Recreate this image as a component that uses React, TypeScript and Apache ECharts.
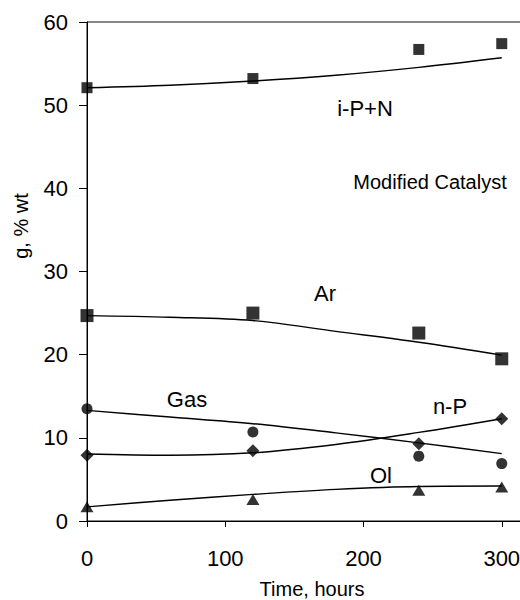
import React, { useEffect, useRef } from "react";
import * as echarts from "echarts";

const times = [0, 120, 240, 300];
const ipnData = [52.1, 53.2, 56.7, 57.4];
const arData = [24.7, 25.0, 22.6, 19.5];
const gasData = [13.5, 10.7, 7.8, 6.9];
const npData = [7.9, 8.45, 9.3, 12.3];
const olData = [1.7, 2.6, 3.7, 4.1];

const fitTimes = [0, 60, 120, 180, 240, 300];
const ipnFit = [52.1, 52.4, 52.9, 53.6, 54.55, 55.7];
const arFit = [24.7, 24.5, 24.1, 22.8, 21.5, 19.95];
const gasFit = [13.3, 12.5, 11.7, 10.6, 9.4, 8.1];
const npFit = [8.05, 7.9, 8.2, 9.2, 10.65, 12.3];
const olFit = [1.7, 2.5, 3.2, 3.8, 4.15, 4.2];

const xTicks = [0, 100, 200, 300, 400];
const yTicks = [0, 10, 20, 30, 40, 50, 60];

const FONT = "'Liberation Sans', Arial, Helvetica, sans-serif";

const pair = (xs: number[], ys: number[]) => xs.map((x, i) => [x, ys[i]]);

export default function App() {
  const ref = useRef<HTMLDivElement>(null);
  useEffect(() => {
    if (!ref.current) return;
    const chart = echarts.init(ref.current, undefined, { renderer: "svg" });
    const scatter = (name: string, data: number[], symbol: string, size: any) => ({
      type: "scatter",
      name,
      data: pair(times, data),
      symbol,
      symbolSize: size,
      itemStyle: { color: "#000" },
      z: 5,
    });
    const fit = (name: string, data: number[]) => ({
      type: "line",
      name: name + " fit",
      data: pair(fitTimes, data),
      smooth: 0.35,
      symbol: "none",
      lineStyle: { color: "#000", width: 1.4 },
      z: 3,
    });
    const txt = (x: number, y: number, text: string, size = 22, rotation = 0) => ({
      type: "text",
      x,
      y,
      rotation,
      style: {
        text,
        fill: "#000",
        font: `${size}px ${FONT}`,
        textAlign: "center",
        textVerticalAlign: "middle",
      },
      z: 10,
    });
    chart.setOption({
      animation: false,
      backgroundColor: "#fff",
      grid: {
        left: 87,
        top: 22,
        width: 553,
        height: 499,
        show: true,
        borderColor: "#111",
        borderWidth: 1,
        containLabel: false,
        outerBoundsMode: "none",
      },
      xAxis: {
        type: "value",
        min: xTicks[0],
        max: xTicks[xTicks.length - 1],
        interval: 100,
        axisLine: { show: true, lineStyle: { color: "#000", width: 1 } },
        axisTick: { show: true, length: 6, lineStyle: { color: "#000" } },
        axisLabel: { color: "#000", fontSize: 22, fontFamily: FONT, margin: 26 },
        splitLine: { show: false },
      },
      yAxis: {
        type: "value",
        min: yTicks[0],
        max: yTicks[yTicks.length - 1],
        interval: 10,
        axisLine: { show: true, lineStyle: { color: "#000", width: 1 } },
        axisTick: { show: true, length: 8, lineStyle: { color: "#000" } },
        axisLabel: { color: "#000", fontSize: 22, fontFamily: FONT, margin: 19 },
        splitLine: { show: false },
      },
      graphic: [
        txt(365, 108, "i-P+N"),
        txt(430, 182, "Modified Catalyst", 20),
        txt(325, 293, "Ar"),
        txt(187, 399, "Gas"),
        txt(450, 406, "n-P"),
        txt(381, 475, "Ol"),
        txt(312, 589, "Time, hours", 20),
        txt(21, 226, "g, % wt", 20, Math.PI / 2),
      ],
      series: [
        fit("i-P+N", ipnFit),
        fit("Ar", arFit),
        fit("Gas", gasFit),
        fit("n-P", npFit),
        fit("Ol", olFit),
        scatter("i-P+N", ipnData, "rect", 11),
        scatter("Ar", arData, "rect", 13),
        scatter("Gas", gasData, "circle", 11),
        scatter("n-P", npData, "diamond", 13),
        scatter("Ol", olData, "triangle", [13, 11]),
      ],
    });
    return () => chart.dispose();
  }, []);
  return (
    <div
      ref={ref}
      style={{ position: "fixed", left: 0, top: 0, width: 520, height: 600, background: "#fff" }}
    />
  );
}
